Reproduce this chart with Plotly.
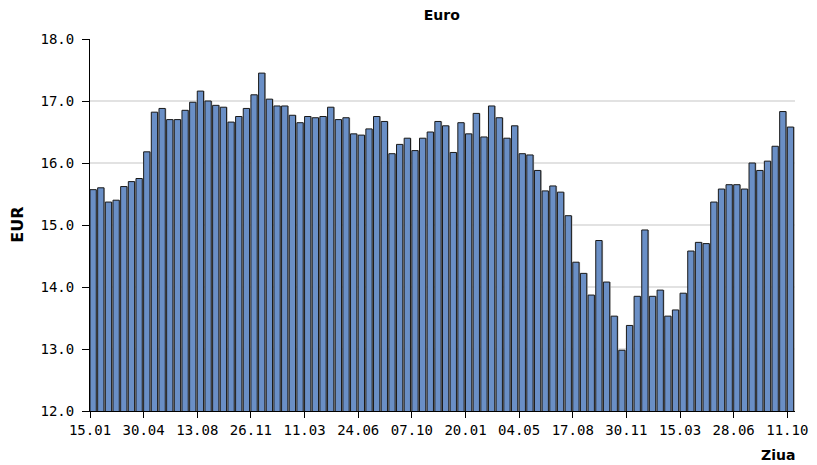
import plotly.graph_objects as go

# Semi-monthly EUR values (one bar per 15-day period)
values = [
    15.57, 15.60, 15.37, 15.40, 15.62, 15.70, 15.75, 16.18, 16.82, 16.88,
    16.70, 16.70, 16.85, 16.98, 17.16, 17.00, 16.93, 16.90, 16.66, 16.75,
    16.88, 17.10, 17.45, 17.03, 16.92, 16.92, 16.77, 16.65, 16.75, 16.73,
    16.75, 16.90, 16.70, 16.73, 16.47, 16.45, 16.55, 16.75, 16.67, 16.15,
    16.30, 16.40, 16.20, 16.40, 16.50, 16.67, 16.60, 16.17, 16.65, 16.47,
    16.80, 16.42, 16.92, 16.73, 16.40, 16.60, 16.15, 16.13, 15.88, 15.55,
    15.63, 15.53, 15.15, 14.40, 14.22, 13.87, 14.75, 14.08, 13.53, 12.98,
    13.38, 13.85, 14.92, 13.85, 13.95, 13.53, 13.63, 13.90, 14.58, 14.72,
    14.70, 15.37, 15.58, 15.65, 15.65, 15.58, 16.00, 15.88, 16.03, 16.27,
    16.83, 16.58,
]
periods = list(range(len(values)))

tick_labels = ["15.01", "30.04", "13.08", "26.11", "11.03", "24.06", "07.10",
               "20.01", "04.05", "17.08", "30.11", "15.03", "28.06", "11.10"]
tick_positions = periods[::7]

y_ticks = [12, 13, 14, 15, 16, 17, 18]
y_tick_labels = ["12.0", "13.0", "14.0", "15.0", "16.0", "17.0", "18.0"]

fig = go.Figure()
# soft grey shadow to the right of each bar
fig.add_trace(go.Bar(
    x=periods, y=values, offset=0.12, width=0.84,
    marker=dict(color="#b4b4b4", line=dict(width=0)),
    hoverinfo="skip", showlegend=False,
))
fig.add_trace(go.Bar(
    x=periods, y=values, offset=0.0, width=0.82,
    marker=dict(color="#6a8fc6", line=dict(color="#1a1a1a", width=1)),
    showlegend=False,
))

mono = "DejaVu Sans Mono"
fig.update_layout(
    width=817, height=465,
    margin=dict(l=82, r=30, t=31, b=62, autoexpand=False),
    plot_bgcolor="white", paper_bgcolor="white",
    barmode="overlay",
    title=dict(text="<b>Euro</b>", x=0.531, xanchor="center", y=0.995, yanchor="top",
               font=dict(family="DejaVu Sans", size=14, color="black")),
    xaxis=dict(
        range=[0, 92], tickmode="array", tickvals=tick_positions, ticktext=tick_labels,
        showgrid=False, zeroline=False,
        showline=True, linecolor="black", linewidth=1,
        ticks="outside", ticklen=6, tickcolor="black",
        tickfont=dict(family=mono, size=14, color="black"),
    ),
    yaxis=dict(
        range=[12, 18], tickmode="array", tickvals=y_ticks, ticktext=y_tick_labels,
        showgrid=True, gridcolor="#e2e2e2", gridwidth=1.5, zeroline=False,
        showline=True, linecolor="black", linewidth=1,
        ticks="outside", ticklen=7, tickcolor="black",
        ticklabelstandoff=5,
        tickfont=dict(family=mono, size=14, color="black"),
    ),
    annotations=[
        dict(text="<b>EUR</b>", xref="paper", yref="paper", x=-0.104, y=0.5,
             xanchor="center", yanchor="middle", textangle=-90, showarrow=False,
             font=dict(family="DejaVu Sans", size=16, color="black")),
        dict(text="<b>Ziua</b>", xref="paper", yref="paper", x=1.003, y=-0.092,
             xanchor="right", yanchor="top", showarrow=False,
             font=dict(family="DejaVu Sans", size=14, color="black")),
    ],
)

fig.write_html("out.html")
